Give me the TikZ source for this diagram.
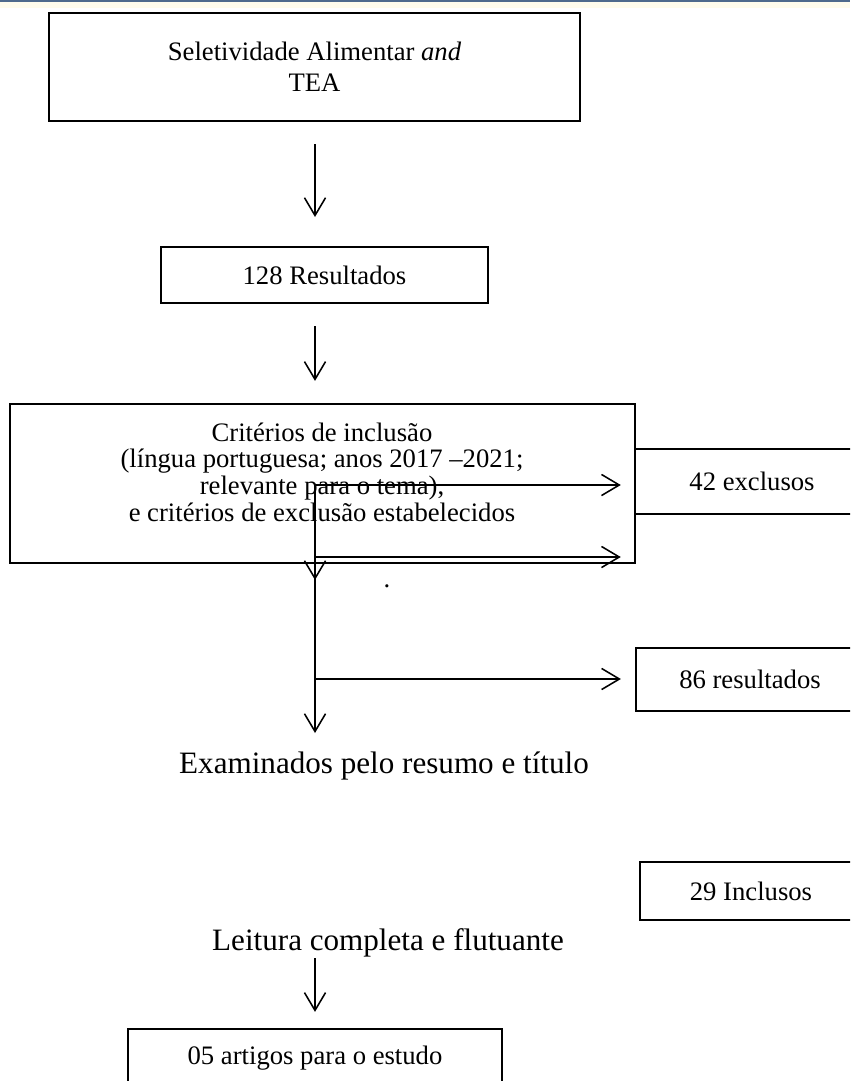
\documentclass[tikz,border=0pt]{standalone}
\usepackage{fontspec}
\setmainfont{Liberation Serif}
\usepackage{tikz}
\usetikzlibrary{arrows.meta,calc}

\definecolor{pagebar}{RGB}{79,106,140}
\definecolor{pagecream}{RGB}{255,252,236}

\begin{document}
\begin{tikzpicture}[
    x=0.45pt, y=-0.45pt,
    box/.style={draw, line width=1pt, inner sep=0pt, align=center, font=\fontsize{12}{14}\selectfont},
    flow/.style={-{Straight Barb[length=8pt,width=9.5pt]}, line width=0.7pt},
    caption/.style={anchor=base, font=\fontsize{14}{16}\selectfont}
]
    \useasboundingbox (0,0) rectangle (850,1081);
    \clip (0,0) rectangle (850,1081);

    % page edge at the top
    \fill[pagecream] (0,0) rectangle (850,8);
    \draw[pagebar, line width=0.9pt] (0,1) -- (850,1);

    % main column
    \coordinate (spine) at (315,0);
    \node[box, minimum width=239pt, minimum height=48.6pt] (src) at (314.5,67) {Seletividade Alimentar \textit{and}\\TEA};
    \node[box, minimum width=147.2pt, minimum height=25.2pt] (res128) at (324.5,275) {128 Resultados};
    \node[box, minimum width=281.25pt, minimum height=71.55pt] (crit) at (322.5,483.5) {};
    \node[align=center, font=\fontsize{12}{12}\selectfont] (crittext) at (322,472) {Critérios de inclusão\\(língua portuguesa; anos 2017 –2021;\\relevante para o tema),\\e critérios de exclusão estabelecidos};
    \node[anchor=base, font=\fontsize{12}{14}\selectfont] (dot) at (387,587) {.};

    % side boxes (cut by the right edge)
    \node[box, minimum width=105.3pt, minimum height=29.25pt] (excl42) at (752,481.5) {42 exclusos};
    \node[box, minimum width=102.6pt, minimum height=28.35pt] (res86) at (750,679.5) {86 resultados};
    \node[box, minimum width=99.9pt, minimum height=26.1pt] (incl29) at (751,891) {29 Inclusos};

    % captions without box
    \node[caption] (exam) at (384,773) {Examinados pelo resumo e título};
    \node[caption] (leit) at (388,950) {Leitura completa e flutuante};

    \node[box, minimum width=168.3pt, minimum height=26.55pt] (art05) at (315,1058.5) {05 artigos para o estudo};

    % arrows
    \coordinate (fork1) at (315,485);
    \coordinate (fork2) at (315,557);
    \coordinate (fork3) at (315,679);
    \coordinate (critout) at (315,580);
    \coordinate (examin) at (315,733);
    \coordinate (leitout) at (315,958);

    \draw[flow, shorten <=9.9pt, shorten >=13pt] (src.south -| spine) -- (res128.north -| spine);
    \draw[flow, shorten <=9.9pt, shorten >=9.9pt] (res128.south -| spine) -- (crit.north -| spine);
    \draw[flow] (fork1) -- (critout);
    \draw[flow] (fork1) -- (examin);
    \draw[flow, shorten >=5.9pt] (fork1) -- (fork1 -| excl42.west);
    \draw[flow, shorten >=5.9pt] (fork2) -- (fork2 -| excl42.west);
    \draw[flow, shorten >=6.3pt] (fork3) -- (fork3 -| res86.west);
    \draw[flow, shorten >=7.2pt] (leitout) -- (art05.north -| spine);
\end{tikzpicture}
\end{document}
